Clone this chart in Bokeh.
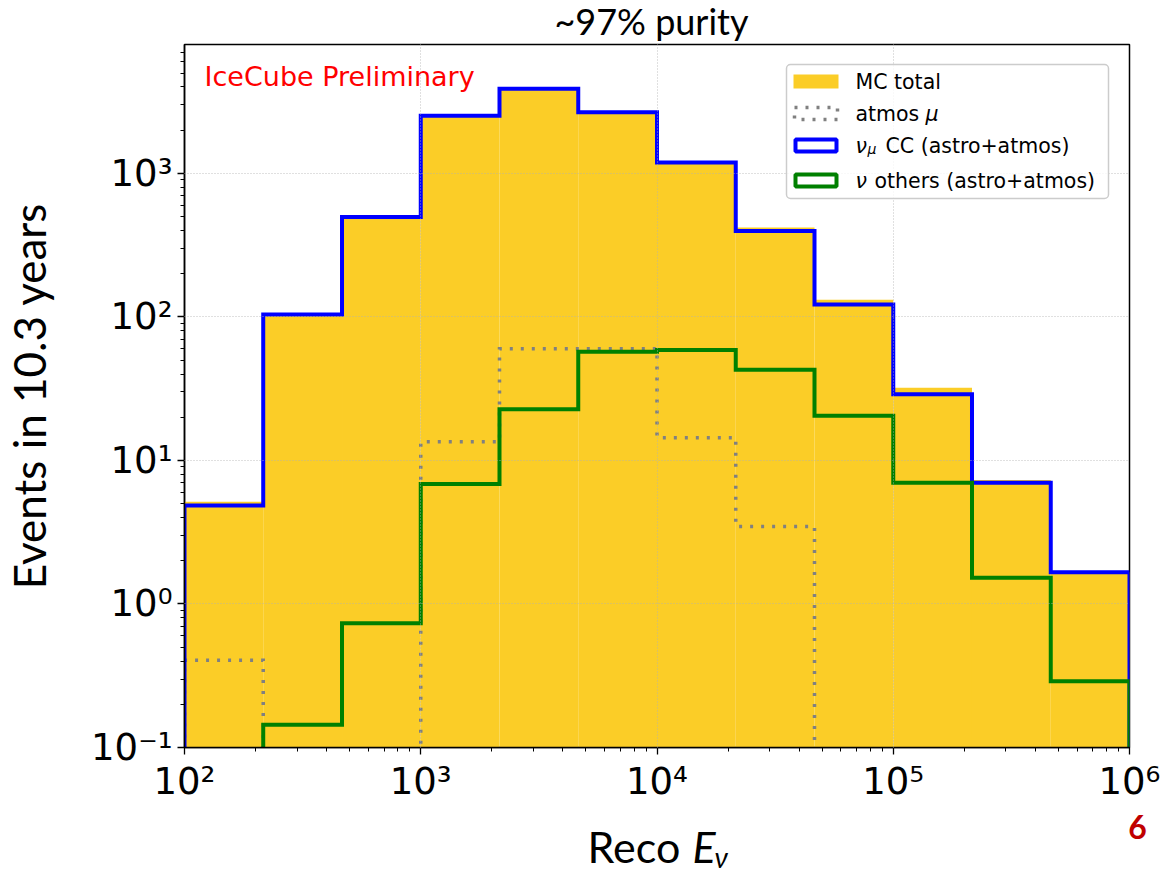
from bokeh.plotting import figure
from bokeh.layouts import column
from bokeh.models import (LogTicker, CustomJSTickFormatter, Label, BoxAnnotation, Range1d)
from bokeh.embed import file_html
from bokeh.resources import INLINE

# ---------------- data ----------------
bin_edges = [100, 215.4, 464.2, 1000, 2154.4, 4641.6, 10000, 21544, 46416,
             100000, 215443, 464159, 1000000]
mc_total = [5.15, 104, 497, 2530, 3900, 2670, 1195, 420, 131.5, 32.1, 7.3, 1.66]
atmos_mu = [0.406, None, None, 13.5, 60, 60, 14.4, 3.47, None, None, None, None]
numu_cc = [4.85, 104, 496, 2520, 3890, 2660, 1188, 397, 122, 28.9, 6.99, 1.66]
nu_others = [None, 0.144, 0.734, 6.85, 22.7, 57.2, 58.7, 42.9, 20.5, 7.0, 1.52, 0.29]

title_text = "~97% purity"
y_label = "Events in 10.3 years"

Y_START, Y_END = 0.1, 7900
FLOOR = 1e-3

YELLOW = "#FBCD27"
BLUE = "#0000FF"
GREEN = "#008000"
GRAY = "#808080"

W = 1167
TOP_H = 43          # strip holding the title
MAIN_H = 762        # main plot
BOT_H = 873 - TOP_H - MAIN_H   # strip holding the x label and slide number
FL, FT = 184, 44    # frame left / top on the page
FB = 748            # frame bottom on the page


def step_path(edges, vals):
    xs, ys = [edges[0]], [FLOOR]
    for i, v in enumerate(vals):
        vv = FLOOR if v is None else v
        xs += [edges[i], edges[i + 1]]
        ys += [vv, vv]
    xs.append(edges[-1])
    ys.append(FLOOR)
    return xs, ys


p = figure(width=W, height=MAIN_H, x_axis_type="log", y_axis_type="log",
           x_range=Range1d(bin_edges[0], bin_edges[-1]),
           y_range=Range1d(Y_START, Y_END),
           output_backend="svg", toolbar_location=None,
           min_border_left=FL, min_border_right=38,
           min_border_top=FT - TOP_H, min_border_bottom=TOP_H + MAIN_H - FB,
           frame_align=False)
p.background_fill_color = "white"
p.border_fill_color = "white"
p.outline_line_color = "black"
p.outline_line_width = 1.5

# yellow MC total
p.quad(left=bin_edges[:-1], right=bin_edges[1:], top=mc_total,
       bottom=[FLOOR] * len(mc_total), fill_color=YELLOW, line_color=None)

xs, ys = step_path(bin_edges, atmos_mu)
p.line(xs, ys, line_color=GRAY, line_width=3.5, line_dash="3 8", line_join="miter")
xs, ys = step_path(bin_edges, numu_cc)
p.line(xs, ys, line_color=BLUE, line_width=4, line_join="miter")
xs, ys = step_path(bin_edges, nu_others)
p.line(xs, ys, line_color=GREEN, line_width=4, line_join="miter")

# axes
fmt = CustomJSTickFormatter(code="""
const sup = {"-":"\u207b","0":"\u2070","1":"\u00b9","2":"\u00b2","3":"\u00b3",
             "4":"\u2074","5":"\u2075","6":"\u2076","7":"\u2077","8":"\u2078","9":"\u2079"};
const e = Math.round(Math.log10(tick));
return "10" + String(e).split("").map(c => sup[c]).join("");
""")
for ax in (p.xaxis[0], p.yaxis[0]):
    ax.ticker = LogTicker(num_minor_ticks=10)
    ax.formatter = fmt
    ax.major_label_text_font = "DejaVu Sans"
    ax.major_label_text_font_size = "37px"
    ax.major_label_text_color = "black"
    ax.major_tick_out = 7
    ax.major_tick_in = 0
    ax.minor_tick_out = 4
    ax.minor_tick_in = 0
    ax.major_tick_line_width = 1.3
    ax.minor_tick_line_width = 1
    ax.axis_line_width = 1.5
    ax.major_label_standoff = 5

p.yaxis.axis_label = y_label
p.yaxis.axis_label_text_font = "Lato"
p.yaxis.axis_label_text_font_style = "normal"
p.yaxis.axis_label_text_font_size = "44px"
p.yaxis.axis_label_text_color = "black"
p.yaxis.axis_label_standoff = 33

for g in (p.xgrid[0], p.ygrid[0]):
    g.grid_line_color = "#b0b0b0"
    g.grid_line_dash = "1 2"
    g.grid_line_width = 0.8
    g.level = "guide"


def lab(fig, text, sx, sy, size, font="DejaVu Sans", style="normal", color="black",
        align="left", baseline="middle", units="screen"):
    fig.add_layout(Label(x=sx, y=sy, x_units=units, y_units=units, text=text,
                         text_font=font, text_font_size=size, text_font_style=style,
                         text_color=color, text_align=align, text_baseline=baseline))


# page coordinates -> frame-relative screen coordinates
def fx(px):
    return px - FL


def fy(py):
    return FB - py


# IceCube Preliminary
lab(p, "IceCube Preliminary", fx(204), fy(77), "27px", color="#FF0000")


# legend box
def box(l, r, t, b, **kw):
    p.add_layout(BoxAnnotation(left=fx(l), right=fx(r), top=fy(t), bottom=fy(b),
                               left_units="screen", right_units="screen",
                               top_units="screen", bottom_units="screen", **kw))


box(786, 1108, 65, 199, fill_color="white", fill_alpha=0.8, line_color="#cccccc",
    line_alpha=1, line_width=1.5, border_radius=4)
box(793, 838, 75, 89, fill_color=YELLOW, fill_alpha=1, line_color=None)
box(794, 837, 108, 120, fill_alpha=0, line_color=GRAY, line_alpha=1, line_width=3.5,
    line_dash="3 8")
box(795, 836, 140, 152, fill_alpha=0, line_color=BLUE, line_alpha=1, line_width=4)
box(795, 836, 175, 187, fill_alpha=0, line_color=GREEN, line_alpha=1, line_width=4)

LX = 855
lab(p, "MC total", fx(LX), fy(82), "20.5px")
lab(p, "atmos", fx(LX), fy(114), "20.5px")
lab(p, "\u03bc", fx(LX + 70), fy(114), "20.5px", style="italic")
lab(p, "\u03bd", fx(LX), fy(146), "20.5px", style="italic")
lab(p, "\u03bc", fx(LX + 12), fy(141), "14px", style="italic", baseline="top")
lab(p, "CC (astro+atmos)", fx(LX + 30), fy(146), "20.5px")
lab(p, "\u03bd", fx(LX), fy(181), "20.5px", style="italic")
lab(p, "others (astro+atmos)", fx(LX + 19), fy(181), "20.5px")


def strip(h, y0):
    # text strip whose data coordinates are page pixels (y grows downward)
    s = figure(width=W, height=h, x_range=Range1d(0, W), y_range=Range1d(y0 + h, y0),
               output_backend="svg", toolbar_location=None, min_border=0,
               x_axis_location=None, y_axis_location=None, frame_align=False)
    s.outline_line_color = None
    s.grid.visible = False
    s.background_fill_color = "white"
    s.border_fill_color = "white"
    return s


top = strip(TOP_H, 0)
lab(top, title_text, 651, 20, "36px", font="Lato", align="center", units="data")

bot = strip(BOT_H, TOP_H + MAIN_H)
lab(bot, "Reco", 587, 846, "43px", font="Lato", units="data")
lab(bot, "E", 692, 846, "43px", font="Lato", style="italic", units="data")
lab(bot, "\u03bd", 714, 856, "28px", font="Lato", style="italic", units="data")
lab(bot, "6", 1137, 826, "32px", font="Lato", style="bold", color="#C00000",
    align="center", units="data")

layout = column(top, p, bot, spacing=0)
open("out.html", "w").write(file_html(layout, INLINE))
